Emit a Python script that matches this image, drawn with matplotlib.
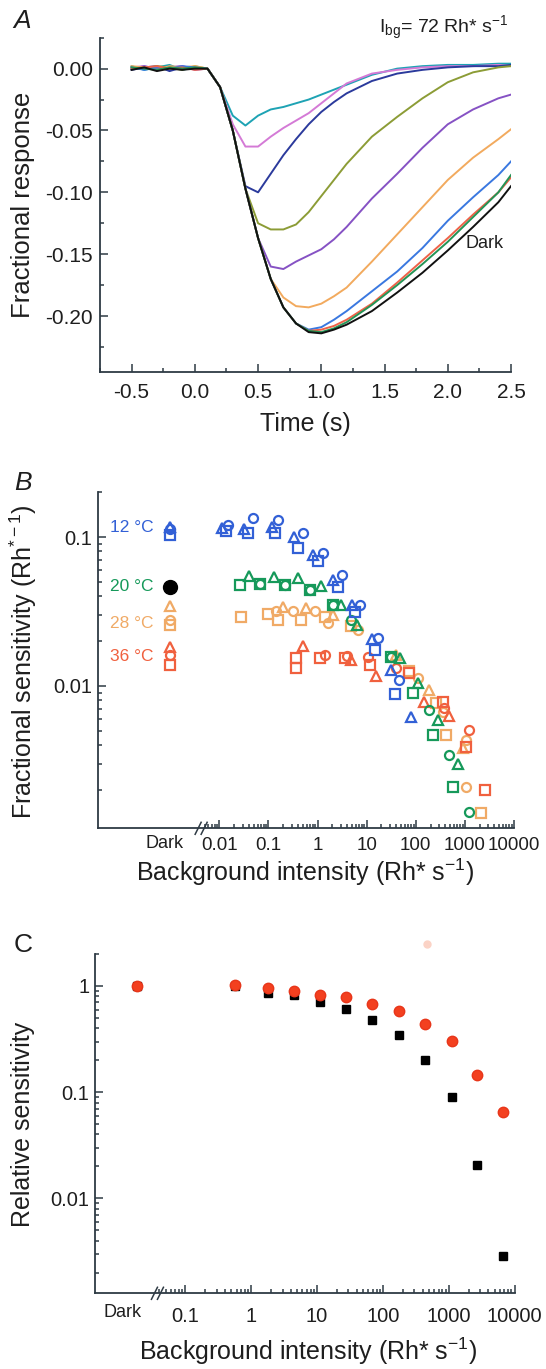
import matplotlib
matplotlib.use("Agg")
import matplotlib.pyplot as plt
import matplotlib.transforms as mtransforms
from matplotlib.lines import Line2D
from matplotlib.ticker import FixedLocator, MultipleLocator, LogLocator, NullFormatter

plt.rcParams['font.family'] = ['Liberation Sans', 'DejaVu Sans']
plt.rcParams['mathtext.fontset'] = 'custom'
plt.rcParams['mathtext.rm'] = 'Liberation Sans'
plt.rcParams['mathtext.it'] = 'Liberation Sans:italic'
plt.rcParams['axes.unicode_minus'] = False

# ---------------- panel A: flash responses ----------------
t_s = [-0.5, -0.4, -0.3, -0.2, -0.1, 0.0, 0.1, 0.2, 0.3, 0.4, 0.5, 0.6, 0.7,
       0.8, 0.9, 1.0, 1.1, 1.2, 1.4, 1.6, 1.8, 2.0, 2.2, 2.4, 2.5]

resp_cyan = [0.002, -0.001, 0.001, 0.003, -0.001, 0.001,
             0.0, -0.015, -0.038, -0.046, -0.038, -0.033, -0.031, -0.028, -0.025, -0.021,
             -0.017, -0.013, -0.005, 0.0, 0.002, 0.003, 0.003, 0.004, 0.004]
resp_magenta = [0.001, 0.002, -0.001, 0.001, 0.002, 0.0,
                0.0, -0.015, -0.045, -0.063, -0.063, -0.055, -0.048, -0.042, -0.036, -0.028,
                -0.02, -0.012, -0.004, -0.001, 0.001, 0.002, 0.002, 0.003, 0.002]
resp_navy = [-0.001, 0.001, 0.002, -0.002, 0.001, 0.0,
             0.0, -0.015, -0.05, -0.095, -0.10, -0.085, -0.07, -0.057, -0.045, -0.035,
             -0.027, -0.02, -0.01, -0.004, -0.001, 0.001, 0.002, 0.002, 0.003]
resp_olive = [0.001, 0.0, 0.002, 0.001, -0.001, 0.002,
              0.0, -0.015, -0.05, -0.097, -0.125, -0.13, -0.13, -0.126, -0.116, -0.103,
              -0.09, -0.077, -0.055, -0.039, -0.024, -0.011, -0.003, 0.001, 0.002]
resp_purple = [0.0, 0.002, 0.0, 0.001, 0.002, -0.001,
               0.0, -0.015, -0.05, -0.097, -0.137, -0.16, -0.162, -0.156, -0.151, -0.146,
               -0.138, -0.128, -0.105, -0.085, -0.064, -0.045, -0.033, -0.024, -0.021]
resp_orange = [0.002, 0.001, -0.001, 0.002, 0.001, 0.002,
               0.0, -0.015, -0.05, -0.097, -0.137, -0.17, -0.185, -0.192, -0.193, -0.19,
               -0.184, -0.177, -0.156, -0.134, -0.112, -0.09, -0.072, -0.057, -0.049]
resp_blue = [0.001, -0.001, 0.001, 0.0, 0.002, 0.001,
             0.0, -0.015, -0.05, -0.097, -0.137, -0.17, -0.193, -0.206, -0.211, -0.209,
             -0.203, -0.196, -0.18, -0.164, -0.145, -0.123, -0.104, -0.086, -0.075]
resp_red = [0.0, 0.001, 0.002, 0.0, 0.001, -0.001,
            0.0, -0.015, -0.05, -0.097, -0.137, -0.17, -0.193, -0.206, -0.212, -0.211,
            -0.208, -0.203, -0.19, -0.173, -0.155, -0.137, -0.118, -0.1, -0.088]
resp_green = [0.001, 0.0, -0.001, 0.001, 0.0, 0.001,
              0.0, -0.015, -0.05, -0.097, -0.137, -0.17, -0.193, -0.206, -0.212, -0.213,
              -0.21, -0.205, -0.191, -0.175, -0.158, -0.14, -0.12, -0.1, -0.086]
resp_dark = [-0.001, 0.001, -0.002, 0.0, -0.001, 0.0,
             0.0, -0.015, -0.05, -0.097, -0.137, -0.17, -0.193, -0.206, -0.213, -0.214,
             -0.211, -0.207, -0.196, -0.181, -0.165, -0.147, -0.128, -0.108, -0.095]

traces = [(resp_cyan, '#1ea3b4'), (resp_magenta, '#d47ad6'), (resp_navy, '#2b3a9c'),
          (resp_olive, '#8c9c36'), (resp_purple, '#8652c4'), (resp_orange, '#f2aa5e'),
          (resp_blue, '#3a78e0'), (resp_red, '#ef6248'), (resp_green, '#249456'),
          (resp_dark, '#111111')]

# ---------------- panel B: fractional sensitivity vs background ----------------
b12_x = [0.0111, 0.0148, 0.0139, 0.0315, 0.0486, 0.0385, 0.117, 0.155, 0.134,
         0.327, 0.498, 0.394, 0.79, 1.27, 1.0, 2.03, 3.09, 2.57, 5.1, 7.4, 5.9,
         12.6, 16.7, 15.1, 32, 46.6, 38.6, 81.8]
b12_y = [0.115, 0.121, 0.109, 0.113, 0.134, 0.106, 0.117, 0.131, 0.107,
         0.100, 0.107, 0.0847, 0.076, 0.0785, 0.0693, 0.0517, 0.0557, 0.0464,
         0.0351, 0.0351, 0.0315, 0.0207, 0.021, 0.0175, 0.0128, 0.011, 0.00883, 0.0062]
b12_m = ['^', 'o', 's'] * 9 + ['^']

b20_x = [0.0261, 0.0398, 0.0687, 0.0687, 0.128, 0.214, 0.214, 0.4, 0.69, 0.69,
         1.19, 2.06, 2.06, 3.05, 4.86, 6.3, 31.6, 31.6, 46.7, 89.8, 113, 184,
         280, 222, 469, 714, 565, 1194]
b20_y = [0.0473, 0.0543, 0.0485, 0.0485, 0.054, 0.0478, 0.0478, 0.053, 0.0442,
         0.0442, 0.0466, 0.0351, 0.0351, 0.0351, 0.0278, 0.0257, 0.0157, 0.0157,
         0.0153, 0.009, 0.0104, 0.0069, 0.0059, 0.00468, 0.0034, 0.003, 0.0021, 0.00141]
b20_m = ['s', '^', 's', 'o', '^', 's', 'o', '^', 's', 'o', '^', 's', 'o', '^',
         'o', '^', 's', 'o', '^', 's', '^', 'o', '^', 's', 'o', '^', 's', 'o']

b28_x = [0.0282, 0.0968, 0.157, 0.146, 0.198, 0.316, 0.469, 0.592, 0.873, 1.39,
         1.63, 2.06, 4.86, 6.6, 39.8, 74.5, 110, 190, 260, 354, 415, 901, 1057,
         1057, 2140]
b28_y = [0.0292, 0.0305, 0.0278, 0.0316, 0.0341, 0.0316, 0.0278, 0.0333, 0.0316,
         0.0292, 0.0264, 0.030, 0.0251, 0.0238, 0.0162, 0.0125, 0.0113, 0.0094,
         0.00766, 0.0067, 0.00468, 0.0038, 0.00434, 0.0021, 0.00139]
b28_m = ['s', 's', 's', 'o', '^', 'o', 's', '^', 'o', 's', 'o', '^', 's', 'o',
         '^', 's', 'o', '^', 's', 'o', 's', '^', 'o', 'o', 's']

b36_x = [0.37, 0.37, 0.505, 1.1, 1.39, 3.55, 3.9, 4.86, 10.5, 11.5, 15.7, 39.8,
         74.5, 150, 354, 383, 484, 1194, 1057, 2610]
b36_y = [0.0153, 0.0131, 0.0184, 0.0153, 0.0162, 0.0153, 0.0158, 0.015, 0.0155,
         0.0138, 0.0116, 0.0131, 0.0122, 0.00783, 0.00783, 0.00708, 0.00622,
         0.00501, 0.0039, 0.002]
b36_m = ['s', 's', '^', 's', 'o', 's', 'o', '^', 'o', 's', '^', 'o', 's', '^',
         's', 'o', '^', 'o', 's', 's']

dark12_y = [0.117, 0.114, 0.103]
dark28_y = [0.0345, 0.0278, 0.0257]
dark36_y = [0.0182, 0.0162, 0.0138]
dark_m = ['^', 'o', 's']
dark20_y = 0.0464

temps = ['12 °C', '20 °C', '28 °C', '36 °C']
temp_colors = ['#3260d6', '#16995a', '#f0aa66', '#f0603e']

# ---------------- panel C: relative sensitivity ----------------
bg_c = [0.565, 1.77, 4.5, 11.1, 27.2, 69, 176, 437, 1112, 2723, 6761]
rel_red = [1.03, 0.958, 0.897, 0.83, 0.788, 0.683, 0.582, 0.436, 0.302, 0.145, 0.0653]
rel_black = [1.0, 0.86, 0.818, 0.707, 0.604, 0.483, 0.344, 0.203, 0.0892, 0.0206, 0.00288]
rel_dark = 1.0

W, H = 546, 1369
AX = '#2e3a44'
TXT = '#1e1e1e'

fig = plt.figure(figsize=(W / 100, H / 100), dpi=100)


def px_axes(x0, y0, x1, y1):
    return fig.add_axes([x0 / W, 1 - y1 / H, (x1 - x0) / W, (y1 - y0) / H])


def ftext(x, y, s, **kw):
    kw.setdefault('ha', 'center')
    kw.setdefault('va', 'center')
    kw.setdefault('color', TXT)
    fig.text(x / W, 1 - y / H, s, **kw)


def style(ax, xpad, ypad, size=14.5):
    for side in ('top', 'right'):
        ax.spines[side].set_visible(False)
    for side in ('left', 'bottom'):
        ax.spines[side].set_color(AX)
        ax.spines[side].set_linewidth(1.3)
    ax.tick_params(which='both', direction='in', color=AX, width=1.1,
                   labelsize=size, labelcolor=TXT)
    ax.tick_params(which='major', length=5.5)
    ax.tick_params(which='minor', length=3)
    ax.tick_params(axis='x', pad=xpad)
    ax.tick_params(axis='y', pad=ypad)


def draw_break(ax, xb):
    x0, y0 = ax.transData.transform((xb, ax.get_ylim()[0]))
    for off in (-3, 3):
        fig.add_artist(Line2D([x0 + off - 3, x0 + off + 3], [y0 - 6, y0 + 6],
                              transform=mtransforms.IdentityTransform(),
                              color=AX, lw=1.1))


# ---- A ----
axA = px_axes(100, 37.7, 511, 371.7)
for vals, col in traces:
    axA.plot(t_s, vals, color=col, lw=1.4)
axA.set_xlim(-0.75, 2.5)
axA.set_ylim(-0.245, 0.025)
axA.set_xticks([-0.5, 0.0, 0.5, 1.0, 1.5, 2.0, 2.5])
axA.set_xticklabels(['-0.5', '0.0', '0.5', '1.0', '1.5', '2.0', '2.5'])
axA.set_yticks([-0.20, -0.15, -0.10, -0.05, 0.0])
axA.set_yticklabels(['-0.20', '-0.15', '-0.10', '-0.05', '0.00'])
axA.xaxis.set_minor_locator(MultipleLocator(0.25))
axA.yaxis.set_minor_locator(MultipleLocator(0.025))
style(axA, 8, 5, 15)

ftext(22, 21, 'A', fontsize=19, style='italic')
ftext(509, 28, r'I$_{\rm bg}$= 72 Rh* s$^{-1}$', fontsize=14, ha='right')
ftext(485, 243, 'Dark', fontsize=13)
ftext(305, 424, 'Time (s)', fontsize=18)
ftext(23, 205, 'Fractional response', fontsize=18.5, rotation=90)

# ---- B ----
axB = px_axes(98, 492.3, 514, 828.3)
axB.set_xscale('log')
axB.set_yscale('log')
axB.set_xlim(10 ** -4.47, 1e4)
axB.set_ylim(0.0011, 0.2)
dark_xb = 1.0e-3
break_b = 10 ** -2.37

groups = [(b28_x, b28_y, b28_m, temp_colors[2]), (b36_x, b36_y, b36_m, temp_colors[3]),
          (b20_x, b20_y, b20_m, temp_colors[1]), (b12_x, b12_y, b12_m, temp_colors[0])]
for xs, ys, ms, col in groups:
    for m in ('s', 'o', '^'):
        px = [x for x, mm in zip(xs, ms) if mm == m]
        py = [y for y, mm in zip(ys, ms) if mm == m]
        axB.plot(px, py, ls='none', marker=m, ms=6.5 if m != '^' else 7,
                 mfc='none', mec=col, mew=1.6)

for ys, col in ((dark28_y, temp_colors[2]), (dark36_y, temp_colors[3]),
                (dark12_y, temp_colors[0])):
    for y, m in zip(ys, dark_m):
        axB.plot([dark_xb], [y], ls='none', marker=m, ms=6.5, mfc='none',
                 mec=col, mew=1.6)
axB.plot([dark_xb], [dark20_y], ls='none', marker='o', ms=10, color='black')

axB.set_xticks([0.01, 0.1, 1, 10, 100, 1000, 10000])
axB.set_xticklabels(['0.01', '0.1', '1', '10', '100', '1000', '10000'])
axB.xaxis.set_minor_locator(FixedLocator(
    [k * 10.0 ** d for d in range(-3, 4) for k in range(2, 10) if k * 10.0 ** d > break_b]))
axB.xaxis.set_minor_formatter(NullFormatter())
axB.set_yticks([0.01, 0.1])
axB.set_yticklabels(['0.01', '0.1'])
axB.yaxis.set_minor_locator(LogLocator(base=10, subs=range(2, 10)))
axB.yaxis.set_minor_formatter(NullFormatter())
style(axB, 6, 4)
axB.tick_params(axis='x', labelsize=13.5)
axB.text(10 ** -3.12, -0.045, 'Dark', fontsize=13, color=TXT, ha='center', va='center',
         transform=mtransforms.blended_transform_factory(axB.transData, axB.transAxes))
draw_break(axB, break_b)

for lab, col, yy in zip(temps, temp_colors, [528, 587, 624, 657]):
    ftext(132, yy, lab, fontsize=12.5, color=col)

ftext(23, 483, 'B', fontsize=19, style='italic')
ftext(305, 872, r'Background intensity (Rh* s$^{-1}$)', fontsize=18)
ftext(23, 662, r'Fractional sensitivity (Rh$^{*-1}$)', fontsize=18, rotation=90)

# ---- C ----
axC = px_axes(95, 954, 514.5, 1293.3)
axC.set_xscale('log')
axC.set_yscale('log')
axC.set_xlim(10 ** -2.375, 1e4)
axC.set_ylim(0.00128, 2)
dark_xc = 10 ** -1.742
break_c = 10 ** -1.426

axC.plot([dark_xc] + bg_c, [rel_dark] + rel_black, ls='none', marker='s', ms=6,
         color='black')
axC.plot([dark_xc] + bg_c, [rel_dark] + rel_red, ls='none', marker='o', ms=7.5,
         mfc='#f3401f', mec='#e8361a')
axC.plot([463], [2.47], ls='none', marker='o', ms=5, color='#fbd3c6', clip_on=False)

axC.set_xticks([0.1, 1, 10, 100, 1000, 10000])
axC.set_xticklabels(['0.1', '1', '10', '100', '1000', '10000'])
axC.xaxis.set_minor_locator(FixedLocator(
    [k * 10.0 ** d for d in range(-2, 4) for k in range(2, 10) if k * 10.0 ** d > break_c]))
axC.xaxis.set_minor_formatter(NullFormatter())
axC.set_yticks([0.01, 0.1, 1])
axC.set_yticklabels(['0.01', '0.1', '1'])
axC.yaxis.set_minor_locator(LogLocator(base=10, subs=range(2, 10)))
axC.yaxis.set_minor_formatter(NullFormatter())
style(axC, 10, 4)
axC.text(10 ** -1.957, -0.057, 'Dark', fontsize=13, color=TXT, ha='center', va='center',
         transform=mtransforms.blended_transform_factory(axC.transData, axC.transAxes))
draw_break(axC, break_c)

ftext(23, 945, 'C', fontsize=19)
ftext(308, 1351, r'Background intensity (Rh* s$^{-1}$)', fontsize=18)
ftext(23, 1124, 'Relative sensitivity', fontsize=18, rotation=90)

fig.savefig('out.png', dpi=100)
